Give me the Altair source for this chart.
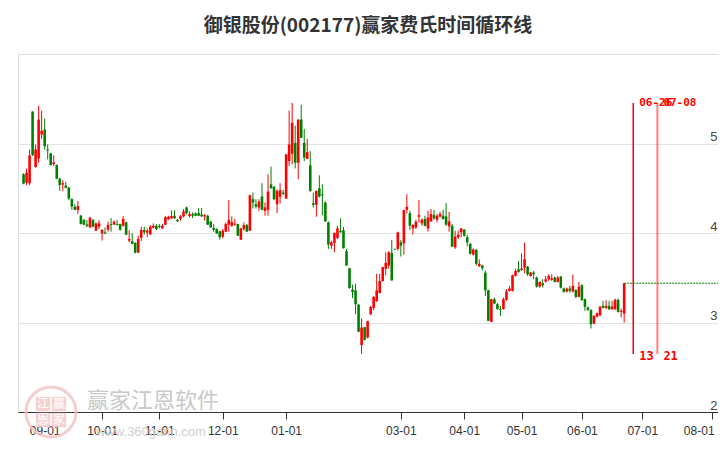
import altair as alt
import pandas as pd

title_text = "御银股份(002177)赢家费氏时间循环线"
first_t = -7  # trading-day index of the first candle (09-01 = 0)

opens = [
    4.656, 4.563, 4.556, 5.356, 4.737, 4.833, 5.100, 5.156, 4.933, 4.889,
    4.770, 4.759, 4.607, 4.541, 4.530, 4.507, 4.378, 4.293, 4.259, 4.193,
    4.144, 4.096, 4.063, 4.144, 4.026, 4.070, 3.996, 4.007, 4.037, 4.100,
    4.096, 4.100, 4.100, 4.081, 4.119, 3.915, 3.907, 3.889, 3.781, 3.948,
    4.033, 4.004, 3.985, 4.059, 4.081, 4.078, 4.052, 4.093, 4.156, 4.163,
    4.193, 4.148, 4.156, 4.185, 4.285, 4.189, 4.211, 4.219, 4.222, 4.207,
    4.185, 4.193, 4.126, 4.056, 4.044, 4.019, 3.959, 4.015, 4.093, 4.081,
    4.093, 4.100, 3.926, 4.044, 4.089, 4.026, 4.378, 4.322, 4.285, 4.407,
    4.248, 4.259, 4.544, 4.515, 4.322, 4.404, 4.452, 4.385, 4.804, 4.885,
    5.007, 4.785, 5.267, 5.007, 4.830, 4.756, 4.333, 4.315, 4.500, 4.433,
    4.341, 4.119, 3.859, 3.889, 3.944, 4.022, 4.030, 3.796, 3.607, 3.367,
    3.359, 3.200, 2.748, 2.948, 2.833, 3.093, 3.163, 3.241, 3.330, 3.463,
    3.600, 3.637, 3.778, 3.822, 3.822, 3.896, 3.885, 4.259, 4.222, 4.052,
    4.063, 4.181, 4.107, 4.156, 4.052, 4.130, 4.200, 4.148, 4.185, 4.193,
    4.185, 4.074, 4.081, 3.841, 3.952, 4.007, 4.037, 3.952, 3.878, 3.759,
    3.811, 3.630, 3.637, 3.556, 3.361, 3.007, 3.260, 3.204, 3.149, 3.149,
    3.253, 3.353, 3.353, 3.520, 3.595, 3.587, 3.613, 3.625, 3.520, 3.558,
    3.502, 3.401, 3.439, 3.457, 3.483, 3.476, 3.502, 3.454, 3.513, 3.379,
    3.346, 3.379, 3.346, 3.361, 3.286, 3.416, 3.260, 3.168, 3.138, 2.989,
    3.067, 3.082, 3.186, 3.164, 3.186, 3.149, 3.149, 3.253, 3.119, 3.100,
]
highs = [
    4.667, 4.719, 4.933, 5.360, 4.989, 5.422, 5.367, 5.278, 4.989, 4.895,
    4.867, 4.767, 4.619, 4.589, 4.574, 4.515, 4.389, 4.322, 4.356, 4.204,
    4.156, 4.144, 4.181, 4.156, 4.119, 4.144, 4.044, 4.063, 4.126, 4.167,
    4.141, 4.144, 4.104, 4.189, 4.126, 4.033, 4.000, 3.896, 3.970, 4.070,
    4.070, 4.052, 4.089, 4.107, 4.100, 4.100, 4.100, 4.189, 4.193, 4.252,
    4.256, 4.156, 4.200, 4.267, 4.296, 4.241, 4.230, 4.230, 4.278, 4.278,
    4.211, 4.204, 4.137, 4.100, 4.052, 4.026, 4.044, 4.119, 4.367, 4.185,
    4.156, 4.104, 4.055, 4.119, 4.100, 4.430, 4.452, 4.378, 4.378, 4.556,
    4.341, 4.656, 4.741, 4.526, 4.489, 4.556, 4.481, 4.885, 5.367, 5.452,
    5.200, 5.270, 5.433, 5.163, 5.052, 4.915, 4.452, 4.474, 4.644, 4.544,
    4.352, 4.130, 3.915, 4.004, 4.081, 4.163, 4.067, 3.822, 3.611, 3.422,
    3.433, 3.204, 3.044, 2.952, 3.019, 3.185, 3.296, 3.544, 3.544, 3.622,
    3.785, 3.796, 3.922, 3.826, 4.015, 3.922, 4.260, 4.433, 4.248, 4.100,
    4.148, 4.370, 4.163, 4.193, 4.248, 4.267, 4.256, 4.211, 4.237, 4.259,
    4.333, 4.237, 4.100, 4.026, 4.026, 4.055, 4.044, 3.981, 3.889, 3.830,
    3.822, 3.704, 3.644, 3.581, 3.365, 3.264, 3.279, 3.216, 3.186, 3.279,
    3.372, 3.409, 3.535, 3.602, 3.688, 3.773, 3.892, 3.632, 3.565, 3.576,
    3.513, 3.457, 3.483, 3.520, 3.539, 3.539, 3.513, 3.520, 3.520, 3.390,
    3.390, 3.409, 3.535, 3.372, 3.454, 3.428, 3.268, 3.178, 3.149, 3.082,
    3.112, 3.186, 3.242, 3.249, 3.242, 3.242, 3.268, 3.268, 3.156, 3.439,
]
lows = [
    4.544, 4.533, 4.533, 4.860, 4.730, 4.785, 5.052, 4.933, 4.822, 4.755,
    4.748, 4.600, 4.470, 4.470, 4.500, 4.367, 4.259, 4.255, 4.211, 4.096,
    4.090, 4.063, 4.056, 4.063, 4.022, 4.044, 3.915, 3.990, 4.015, 4.015,
    4.089, 4.085, 4.026, 4.070, 3.978, 3.896, 3.875, 3.770, 3.778, 3.911,
    3.985, 3.956, 3.978, 4.052, 4.033, 4.052, 4.044, 4.090, 4.144, 4.156,
    4.160, 4.126, 4.137, 4.174, 4.211, 4.174, 4.167, 4.190, 4.190, 4.181,
    4.137, 4.090, 4.060, 4.015, 3.989, 3.926, 3.941, 4.010, 4.015, 4.070,
    4.081, 3.967, 3.922, 4.026, 4.012, 4.022, 4.274, 4.274, 4.248, 4.255,
    4.193, 4.193, 4.496, 4.367, 4.222, 4.333, 4.422, 4.380, 4.748, 4.767,
    4.722, 4.600, 5.060, 4.804, 4.826, 4.459, 4.285, 4.181, 4.396, 4.200,
    4.126, 3.822, 3.822, 3.785, 3.933, 4.004, 3.826, 3.633, 3.378, 3.274,
    3.093, 2.893, 2.648, 2.800, 2.822, 3.081, 3.137, 3.230, 3.326, 3.460,
    3.526, 3.600, 3.467, 3.812, 3.804, 3.737, 3.759, 4.219, 4.033, 3.981,
    4.044, 4.119, 4.081, 4.074, 4.015, 4.126, 4.148, 4.119, 4.174, 4.152,
    4.081, 4.015, 3.845, 3.822, 3.933, 3.952, 3.959, 3.852, 3.759, 3.748,
    3.637, 3.619, 3.581, 3.296, 3.015, 3.004, 3.204, 3.145, 3.074, 3.145,
    3.242, 3.346, 3.346, 3.516, 3.558, 3.576, 3.550, 3.520, 3.513, 3.483,
    3.390, 3.390, 3.390, 3.446, 3.465, 3.465, 3.446, 3.446, 3.379, 3.335,
    3.335, 3.335, 3.335, 3.271, 3.282, 3.242, 3.130, 3.130, 2.933, 2.981,
    3.056, 3.067, 3.156, 3.149, 3.141, 3.141, 3.141, 3.112, 3.056, 3.000,
]
closes = [
    4.552, 4.674, 4.867, 4.870, 4.933, 5.267, 5.141, 4.970, 4.922, 4.759,
    4.789, 4.607, 4.537, 4.556, 4.504, 4.385, 4.296, 4.259, 4.300, 4.100,
    4.093, 4.081, 4.170, 4.070, 4.107, 4.107, 4.033, 3.993, 4.089, 4.089,
    4.126, 4.089, 4.037, 4.156, 3.981, 3.933, 3.878, 3.781, 3.933, 4.033,
    4.007, 4.026, 4.070, 4.081, 4.044, 4.067, 4.081, 4.178, 4.181, 4.189,
    4.163, 4.130, 4.189, 4.241, 4.219, 4.211, 4.193, 4.193, 4.193, 4.185,
    4.200, 4.093, 4.063, 4.037, 3.996, 3.952, 4.026, 4.100, 4.148, 4.122,
    4.104, 3.970, 4.052, 4.089, 4.015, 4.422, 4.341, 4.296, 4.352, 4.259,
    4.285, 4.463, 4.500, 4.378, 4.470, 4.478, 4.437, 4.878, 4.989, 5.230,
    4.785, 5.267, 5.063, 4.841, 4.904, 4.470, 4.315, 4.470, 4.407, 4.422,
    4.130, 3.870, 3.896, 4.000, 4.052, 4.007, 3.830, 3.637, 3.385, 3.341,
    3.204, 2.896, 2.944, 2.804, 3.015, 3.174, 3.285, 3.359, 3.463, 3.619,
    3.667, 3.785, 3.470, 3.815, 4.007, 3.859, 4.256, 4.293, 4.081, 4.089,
    4.126, 4.200, 4.148, 4.081, 4.174, 4.211, 4.163, 4.193, 4.211, 4.156,
    4.093, 4.130, 3.848, 3.959, 3.981, 4.052, 3.970, 3.896, 3.767, 3.815,
    3.656, 3.656, 3.607, 3.359, 3.019, 3.260, 3.212, 3.149, 3.141, 3.260,
    3.349, 3.379, 3.528, 3.576, 3.565, 3.602, 3.706, 3.539, 3.558, 3.539,
    3.401, 3.454, 3.416, 3.483, 3.520, 3.494, 3.454, 3.502, 3.390, 3.342,
    3.379, 3.353, 3.409, 3.286, 3.401, 3.253, 3.175, 3.141, 2.981, 3.074,
    3.104, 3.175, 3.164, 3.186, 3.149, 3.178, 3.253, 3.119, 3.130, 3.439,
]

tick_idx = [0, 19, 38, 59, 80, 118, 139, 158, 178, 198, 221]
tick_labels = ["09-01", "10-01", "11-01", "12-01", "01-01", "03-01",
               "04-01", "05-01", "06-01", "07-01", "08-01"]
y_ticks = [2, 3, 4, 5]

cycle_t = [195, 203]
cycle_dates = ["06-26", "07-08"]
cycle_nums = ["13", "21"]
cycle_opacity = [1.0, 0.45]
cycle_width = [1.5, 2.2]

logo_chars = ["江", "赢", "恩", "家"]

RED = "#ff0000"
GREEN = "#008000"

n = len(opens)
df = pd.DataFrame({
    "t": list(range(first_t, first_t + n)),
    "o": opens, "h": highs, "l": lows, "c": closes,
})
df["dir"] = ["up" if c > o else "down" for o, c in zip(opens, closes)]

hmax = max(highs)
lmin = min(lows)

cyc = pd.DataFrame({
    "t": cycle_t, "date": cycle_dates, "num": cycle_nums,
    "op": cycle_opacity, "w": cycle_width,
    "top": [hmax] * len(cycle_t), "bot": [lmin] * len(cycle_t),
})

last = pd.DataFrame({"t": [df["t"].iloc[-1]], "c": [closes[-1]]})

W, H = 700, 358
STEP = 3.062
xscale = alt.Scale(domain=[-7.18, -7.18 + W / STEP], nice=False, zero=False)
yscale = alt.Scale(domain=[2, 6], nice=False, zero=False)

labels_js = "[" + ",".join("'" + s + "'" for s in tick_labels) + "]"
idx_js = "[" + ",".join(str(v) for v in tick_idx) + "]"
last_tick = tick_idx[-1]

xaxis = alt.Axis(
    values=tick_idx, labelExpr=f"{labels_js}[indexof({idx_js}, datum.value)]",
    grid=False, domainColor="#333333", tickColor="#333333", tickSize=7,
    labelPadding=6, labelFont="Liberation Sans", labelFontSize=12,
    labelColor="#333333", title=None, labelOverlap=False,
    labelOffset=alt.ExprRef(f"datum.value == {last_tick} ? -13 : 0"),
)
yaxis = alt.Axis(
    orient="right", values=y_ticks, format="d", grid=True, gridColor="#e3e3e3",
    domain=False, ticks=False, labelAlign="right", labelBaseline="bottom",
    labelPadding=-1, labelFont="Liberation Sans", labelFontSize=13,
    labelColor="#444444", title=None,
)

color = alt.Color("dir:N", scale=alt.Scale(domain=["up", "down"], range=[RED, GREEN]), legend=None)

base = alt.Chart(df)
wicks = base.mark_rule(strokeWidth=1).encode(
    x=alt.X("t:Q", scale=xscale, axis=xaxis),
    y=alt.Y("l:Q", scale=yscale, axis=yaxis),
    y2="h:Q",
    color=color,
)
bodies = base.mark_bar(size=2.6).encode(
    x="t:Q", y="o:Q", y2="c:Q", color=color,
)

hline = alt.Chart(last).mark_rule(color=GREEN, strokeWidth=1, strokeDash=[2, 1]).encode(
    x="t:Q", x2=alt.value(W), y="c:Q",
)

cyc_lines = alt.Chart(cyc).mark_rule(color=RED).encode(
    x="t:Q", y="top:Q", y2="bot:Q",
    opacity=alt.Opacity("op:Q", scale=None),
    strokeWidth=alt.StrokeWidth("w:Q", scale=None),
)
cyc_top = alt.Chart(cyc).mark_text(
    align="left", baseline="middle", dx=6, color=RED,
    font="DejaVu Sans Mono", fontSize=11, fontWeight="bold",
).encode(x="t:Q", y="top:Q", text="date:N")
cyc_bot = alt.Chart(cyc).mark_text(
    align="left", baseline="middle", dx=6, dy=2, color=RED,
    font="DejaVu Sans Mono", fontSize=12, fontWeight="bold",
).encode(x="t:Q", y="bot:Q", text="num:N")

# watermark (decoration, pixel placed)
wm_df = pd.DataFrame({"k": [0]})
wm_layers = [
    alt.Chart(wm_df).mark_point(
        shape="circle", size=2500, filled=False, stroke="#f2c4c4", strokeWidth=3, opacity=0.8,
    ).encode(x=alt.value(33), y=alt.value(358)),
    alt.Chart(wm_df).mark_text(
        text="赢家江恩软件", font="Noto Sans CJK SC", fontSize=22, color="#c9c9c9",
        align="center", baseline="middle",
    ).encode(x=alt.value(135), y=alt.value(347)),
    alt.Chart(wm_df).mark_text(
        text="www.360gann.com", font="Liberation Sans", fontSize=13, color="#d0d0d0",
        align="center", baseline="middle",
    ).encode(x=alt.value(133), y=alt.value(378)),
]
offs = [(-8, -8), (8, -8), (-8, 8), (8, 8)]
for ch, (ox, oy) in zip(logo_chars, offs):
    wm_layers.append(
        alt.Chart(wm_df).mark_square(size=210, color="#f4cccc", opacity=0.9)
        .encode(x=alt.value(33 + ox), y=alt.value(358 + oy))
    )
    wm_layers.append(
        alt.Chart(wm_df).mark_text(
            text=ch, font="Noto Sans CJK SC", fontSize=12, color="#ffffff",
            align="center", baseline="middle",
        ).encode(x=alt.value(33 + ox), y=alt.value(358 + oy))
    )

chart = alt.layer(
    *wm_layers, wicks, bodies, hline, cyc_lines, cyc_top, cyc_bot,
).properties(
    width=W, height=H,
    padding={"left": 10, "top": 46, "right": 0, "bottom": 28},
    autosize="none",
    title=alt.TitleParams(
        text=title_text, font="Noto Sans CJK SC", fontSize=19, fontWeight="bold",
        color="#333333", anchor="middle", offset=18,
    ),
).configure_view(stroke=None).configure(background="white")

chart.save("out.html", embed_options={"renderer": "svg", "actions": False})
